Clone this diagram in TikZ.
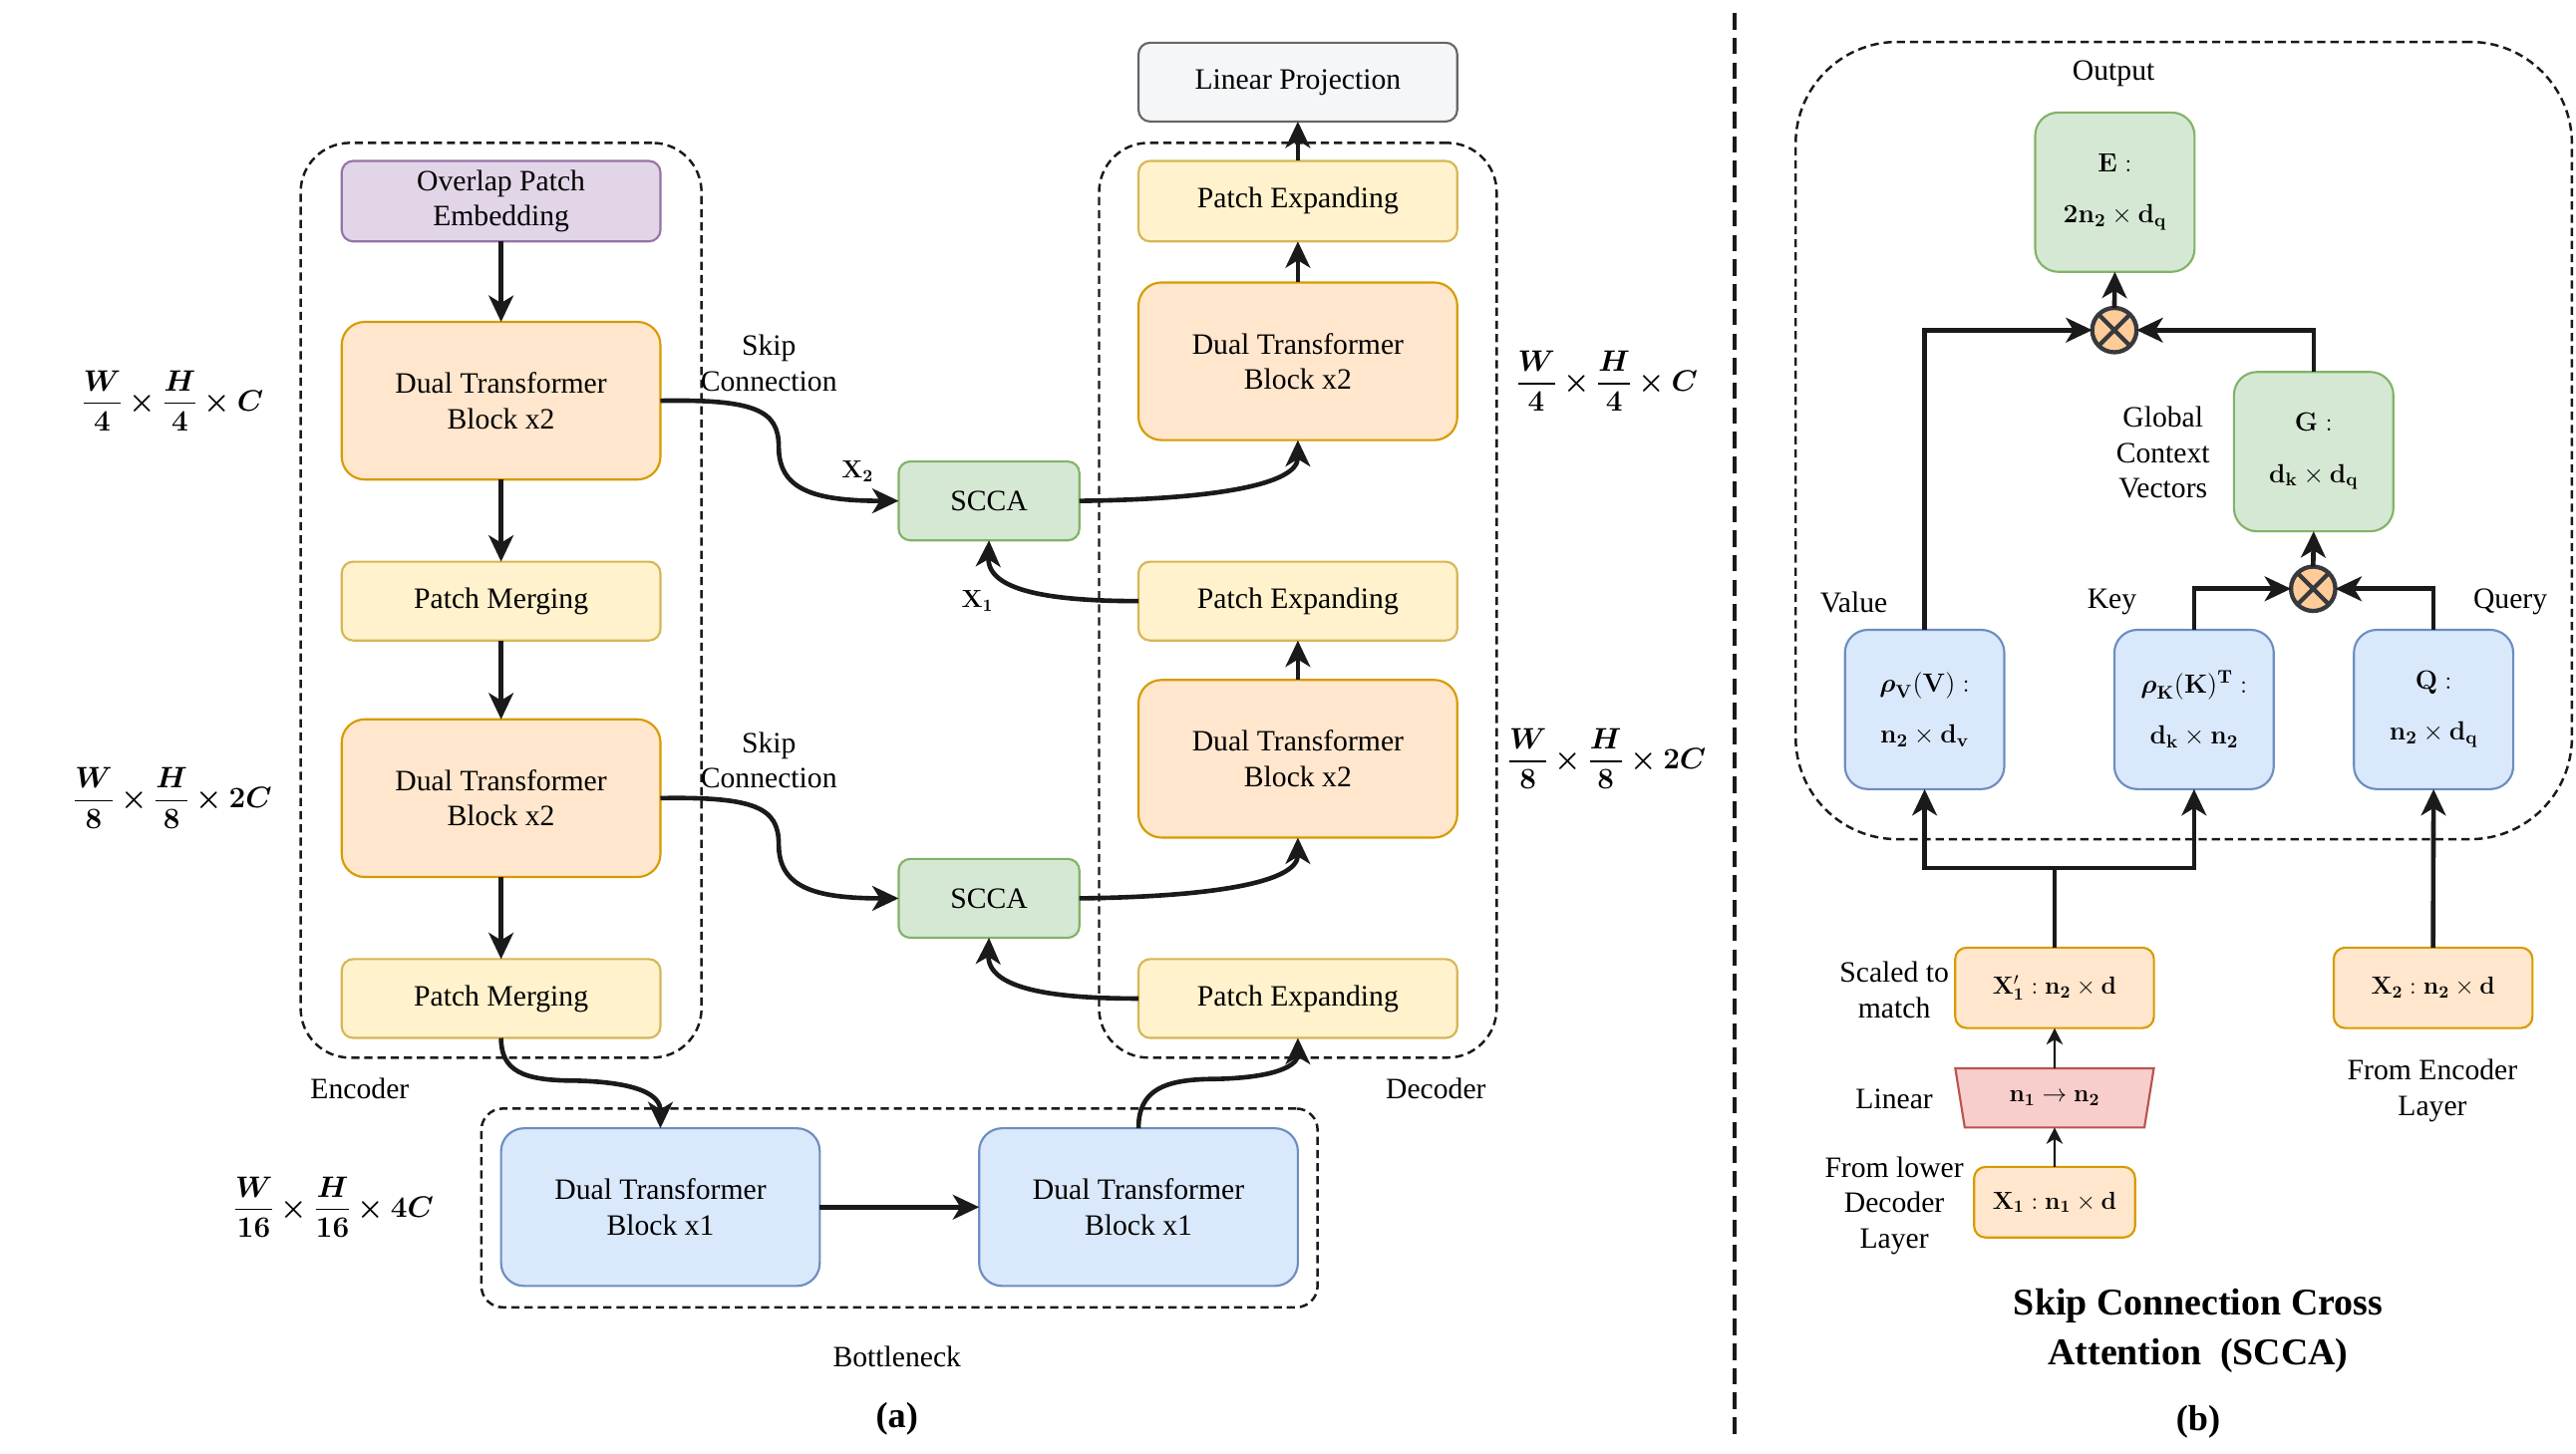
\RequirePackage{fix-cm}
\documentclass[tikz,border=0pt]{standalone}
\usepackage{amsmath}
\usepackage[no-math]{fontspec}
\setmainfont{Liberation Serif}
\usetikzlibrary{arrows.meta,shapes.geometric,calc}
\definecolor{orgF}{HTML}{FFE6CC}\definecolor{orgD}{HTML}{D79B00}
\definecolor{yelF}{HTML}{FFF2CC}\definecolor{yelD}{HTML}{D6B656}
\definecolor{purF}{HTML}{E1D5E7}\definecolor{purD}{HTML}{9673A6}
\definecolor{grnF}{HTML}{D5E8D4}\definecolor{grnD}{HTML}{82B366}
\definecolor{bluF}{HTML}{DAE8FC}\definecolor{bluD}{HTML}{6C8EBF}
\definecolor{gryF}{HTML}{F5F6F8}\definecolor{gryD}{HTML}{666666}
\definecolor{redF}{HTML}{F8CECC}\definecolor{redD}{HTML}{B85450}
\definecolor{otF}{HTML}{FFCC99}\definecolor{otD}{HTML}{36393D}
\definecolor{ink}{HTML}{1A1A1A}
\newcommand\mainfs{\fontsize{18}{21.5}\selectfont}
\newcommand\boxmfs{\fontsize{16}{31}\selectfont}
\newcommand\smallmfs{\fontsize{15}{17}\selectfont}
\newcommand\titlefs{\fontsize{23}{30}\selectfont\bfseries}
\newcommand\capfs{\fontsize{22}{26}\selectfont\bfseries}
\newcommand\dimfrac[2]{\dfrac{\boldsymbol{#1}}{\mathbf{#2}}}
\newcommand\btimes{\mathbin{\boldsymbol{\times}}}
\begin{document}
\begin{tikzpicture}[x=1pt,y=-1pt,
  every node/.style={inner sep=0pt, outer sep=0pt, text=black},
  blk/.style={rectangle, rounded corners=7pt, line width=1.3pt, align=center, font=\mainfs, minimum width=194pt, minimum height=48pt},
  tall/.style={blk, rounded corners=14pt, minimum height=96pt},
  sqb/.style={rectangle, rounded corners=14pt, line width=1.3pt, align=center, font=\boxmfs, minimum width=97pt, minimum height=97pt},
  xbox/.style={rectangle, rounded corners=7pt, line width=1.3pt, align=center, font=\smallmfs, minimum width=121pt, minimum height=49pt},
  org/.style={draw=orgD, fill=orgF},
  yel/.style={draw=yelD, fill=yelF},
  pur/.style={draw=purD, fill=purF},
  grn/.style={draw=grnD, fill=grnF},
  blu/.style={draw=bluD, fill=bluF},
  gry/.style={draw=gryD, fill=gryF},
  dbox/.style={draw=ink, line width=1.5pt, dash pattern=on 5pt off 3pt, rectangle},
  arr/.style={draw=ink, line width=2.8pt, -{Stealth[length=16pt,width=15pt,inset=4.5pt]}},
  plain/.style={draw=ink, line width=2.8pt},
  thinarr/.style={draw=ink, line width=1.3pt, -{Stealth[length=10pt,width=10pt,inset=3pt]}},
  lbl/.style={font=\mainfs, align=center},
  dimlbl/.style={font=\mainfs},
  otim/.style={circle, draw=otD, fill=otF, line width=2.6pt, minimum size=27pt,
    path picture={\draw[otD, line width=2.6pt] (path picture bounding box.south west) -- (path picture bounding box.north east) (path picture bounding box.north west) -- (path picture bounding box.south east);}}
]
\useasboundingbox (0,0) rectangle (1568,885.3);

% ---------- panel (a) containers ----------
\node[dbox, rounded corners=30pt, minimum width=244pt, minimum height=557pt] (encbox) at (305,365.5) {};
\node[dbox, rounded corners=30pt, minimum width=242pt, minimum height=557pt] (decbox) at (790,365.5) {};
\node[dbox, rounded corners=13pt, minimum width=509pt, minimum height=121pt] (bnbox) at (547.5,735.5) {};

% ---------- encoder ----------
\node[blk, pur, minimum height=49pt] (ope) at (305,122.5) {Overlap Patch\\Embedding};
\node[tall, org] (enc1) at (305,244) {Dual Transformer\\Block x2};
\node[blk, yel] (pm1) at (305,366) {Patch Merging};
\node[tall, org] (enc2) at (305,486) {Dual Transformer\\Block x2};
\node[blk, yel] (pm2) at (305,608) {Patch Merging};

% ---------- SCCA ----------
\node[blk, grn, minimum width=110pt] (scca1) at (602,305) {SCCA};
\node[blk, grn, minimum width=110pt] (scca2) at (602,547) {SCCA};

% ---------- decoder ----------
\node[blk, gry] (lp) at (790,50) {Linear Projection};
\node[blk, yel, minimum height=49pt] (pe1) at (790,122.5) {Patch Expanding};
\node[tall, org] (dec1) at (790,220) {Dual Transformer\\Block x2};
\node[blk, yel] (pe2) at (790,366) {Patch Expanding};
\node[tall, org] (dec2) at (790,462) {Dual Transformer\\Block x2};
\node[blk, yel] (pe3) at (790,608) {Patch Expanding};

% ---------- bottleneck ----------
\node[tall, blu] (bn1) at (402,735) {Dual Transformer\\Block x1};
\node[tall, blu] (bn2) at (693,735) {Dual Transformer\\Block x1};

% ---------- labels (a) ----------
\node[lbl] (lenc) at (219,663) {Encoder};
\node[lbl] (ldec) at (874,663) {Decoder};
\node[lbl] (lbn) at (546,826) {Bottleneck};
\node[font=\capfs] (capa) at (546,864) {(a)};
\node[lbl] (skip1) at (468,221) {Skip\\Connection};
\node[lbl] (skip2) at (468,463) {Skip\\Connection};
\node[font=\smallmfs] (lx2) at (522,287) {$\mathbf{X_2}$};
\node[font=\smallmfs] (lx1) at (595,366) {$\mathbf{X_1}$};
\node[dimlbl] (dim1) at (105,244) {$\dimfrac{W}{4}\btimes\dimfrac{H}{4}\btimes\boldsymbol{C}$};
\node[dimlbl] (dim2) at (105,486) {$\dimfrac{W}{8}\btimes\dimfrac{H}{8}\btimes\mathbf{2}\boldsymbol{C}$};
\node[dimlbl] (dim3) at (203,735) {$\dimfrac{W}{16}\btimes\dimfrac{H}{16}\btimes\mathbf{4}\boldsymbol{C}$};
\node[dimlbl] (dim4) at (978,232) {$\dimfrac{W}{4}\btimes\dimfrac{H}{4}\btimes\boldsymbol{C}$};
\node[dimlbl] (dim5) at (978,462) {$\dimfrac{W}{8}\btimes\dimfrac{H}{8}\btimes\mathbf{2}\boldsymbol{C}$};

% ---------- connectors (a) ----------
\draw[arr] (ope.south) -- (enc1.north);
\draw[arr] (enc1.south) -- (pm1.north);
\draw[arr] (pm1.south) -- (enc2.north);
\draw[arr] (enc2.south) -- (pm2.north);
\draw[arr] (bn1.east) -- (bn2.west);
\draw[arr] (dec2.north) -- (pe2.south);
\draw[arr] (dec1.north) -- (pe1.south);
\draw[arr] (pe1.north) -- (lp.south);
% skip 1
\draw[arr] (enc1.east) .. controls (460,243) and (474,250) .. (474,272) .. controls (474,298) and (495,305) .. (scca1.west);
\draw[arr] (scca1.east) .. controls (740,304) and (790,295) .. (dec1.south);
\draw[arr] (pe2.west) .. controls (640,366) and (601,360) .. (scca1.south);
% skip 2
\draw[arr] (enc2.east) .. controls (460,485) and (474,492) .. (474,514) .. controls (474,540) and (495,547) .. (scca2.west);
\draw[arr] (scca2.east) .. controls (740,546) and (790,537) .. (dec2.south);
\draw[arr] (pe3.west) .. controls (640,608) and (601,602) .. (scca2.south);
% bottleneck links
\draw[arr] (pm2.south) .. controls (305,652) and (318,658) .. (350,658) .. controls (392,659) and (402,668) .. (bn1.north);
\draw[arr] (bn2.north) .. controls (693,664) and (708,657) .. (740,657) .. controls (784,656) and (790,646) .. (pe3.south);

% separator
\draw[draw=ink, line width=2.6pt, dash pattern=on 10pt off 5pt] (1056,8) -- (1056,875);

% ---------- panel (b) ----------
\node[dbox, rounded corners=62pt, minimum width=472.5pt, minimum height=485.5pt] (sccabox) at (1329.25,268.25) {};
\node[sqb, grn] (E) at (1287.3,117) {$\mathbf{E}:$\\$\mathbf{2n_2}\times\mathbf{d_q}$};
\node[otim] (ot1) at (1287,201) {};
\node[sqb, grn] (G) at (1408.3,275) {$\mathbf{G}:$\\$\mathbf{d_k}\times\mathbf{d_q}$};
\node[otim] (ot2) at (1408,358.5) {};
\node[sqb, blu] (V) at (1171.5,432) {$\boldsymbol{\rho}_{\mathbf V}(\mathbf V):$\\$\mathbf{n_2}\times\mathbf{d_v}$};
\node[sqb, blu] (K) at (1335.5,432) {$\boldsymbol{\rho}_{\mathbf K}(\mathbf K)^{\mathbf T}:$\\$\mathbf{d_k}\times\mathbf{n_2}$};
\node[sqb, blu] (Q) at (1481.3,432) {$\mathbf{Q}:$\\$\mathbf{n_2}\times\mathbf{d_q}$};
\node[xbox, org] (X1p) at (1250.6,601.5) {$\mathbf{X'_1}:\mathbf{n_2}\times\mathbf{d}$};
\node[xbox, org] (X2) at (1481,601.5) {$\mathbf{X_2}:\mathbf{n_2}\times\mathbf{d}$};
\node[trapezium, draw=redD, fill=redF, line width=1.3pt, trapezium left angle=72, trapezium right angle=72, shape border rotate=180, trapezium stretches=true, minimum width=121pt, minimum height=36pt, font=\smallmfs] (lin) at (1250.6,668.5) {$\mathbf{n_1}\rightarrow\mathbf{n_2}$};
\node[xbox, org, minimum width=98pt, minimum height=43pt] (X1) at (1250.6,732) {$\mathbf{X_1}:\mathbf{n_1}\times\mathbf{d}$};

\node[lbl] (lout) at (1286.5,45) {Output};
\node[lbl] (lgcv) at (1316.6,275.5) {Global\\Context\\Vectors};
\node[lbl] (lval) at (1128.4,366.5) {Value};
\node[lbl] (lkey) at (1285.5,366.5) {Key};
\node[lbl] (lqry) at (1528,366.5) {Query};
\node[lbl] (lscl) at (1153,602.7) {Scaled to\\match};
\node[lbl] (llin) at (1153,669.4) {Linear};
\node[lbl] (lfld) at (1153,734) {From lower\\Decoder\\Layer};
\node[lbl] (lfel) at (1480.6,664) {From Encoder\\Layer};
\node[font=\titlefs, align=center] (title) at (1338,810.4) {Skip Connection Cross\\Attention~~(SCCA)};
\node[font=\capfs] (capb) at (1338,866) {(b)};

\coordinate (br) at (1250.6,528.5);
\draw[thinarr] (X1.north) -- (lin.south);
\draw[thinarr] (lin.north) -- (X1p.south);
\draw[plain] (X1p.north) -- (br);
\draw[arr] (br) -| (V.south);
\draw[arr] (br) -| (K.south);
\draw[arr] (X2.north) -- (Q.south);
\draw[arr] (V.north) |- (ot1.west);
\draw[arr] (G.north) |- (ot1.east);
\draw[arr] (ot1.north) -- (E.south);
\draw[arr] (K.north) |- (ot2.west);
\draw[arr] (Q.north) |- (ot2.east);
\draw[arr] (ot2.north) -- (G.south);
\end{tikzpicture}
\end{document}
